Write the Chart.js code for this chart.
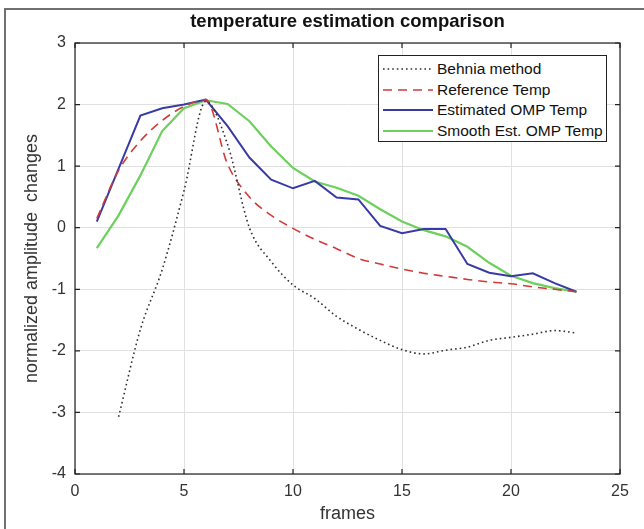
<!DOCTYPE html>
<html lang="en">
<head>
    <meta charset="UTF-8">
    <title>temperature estimation comparison</title>
    <style>
        body { margin: 0; background: #fff; }
        #wrap { position: relative; width: 644px; height: 529px; overflow: hidden; }
        /* figure frame, only left and top edges show in the crop */
        #frame {
            position: absolute; left: 4px; top: 8px; width: 700px; height: 600px;
            border-left: 2px solid #707070; border-top: 2px solid #707070;
        }
        #chart { position: absolute; left: 0; top: 0; }
        #legend {
            position: absolute; left: 378px; top: 55px; width: 229px; height: 87px;
            border: 1px solid #222; background: #fff;
            font-family: "Liberation Sans", Arial, sans-serif; font-size: 15.5px; color: #111;
            box-sizing: border-box; padding-top: 3px;
        }
        #legend .row { display: flex; align-items: center; height: 20.5px; }
        #legend svg { margin-left: 4px; margin-right: 4px; }
    </style>
    <script src="https://cdn.jsdelivr.net/npm/chart.js"></script>
</head>
<body>
<div id="wrap">
    <div id="frame"></div>
    <canvas id="chart" width="644" height="529"></canvas>
    <div id="legend"></div>
</div>
<script>
    // values
    const frames = [1, 2, 3, 4, 5, 6, 7, 8, 9, 10, 11, 12, 13, 14, 15, 16, 17, 18, 19, 20, 21, 22, 23];
    const behniaFrames = [2, 3, 4, 5, 6, 7, 8, 9, 10, 11, 12, 13, 14, 15, 16, 17, 18, 19, 20, 21, 22, 23];
    const behnia = [-3.07, -1.65, -0.68, 0.6, 2.05, 1.35, 0.0, -0.55, -0.93, -1.15, -1.44, -1.65, -1.83, -1.98, -2.05, -1.99, -1.94, -1.83, -1.78, -1.73, -1.67, -1.71];
    const reference = [0.15, 0.93, 1.41, 1.74, 1.97, 2.08, 1.03, 0.5, 0.2, -0.01, -0.19, -0.34, -0.5, -0.59, -0.67, -0.74, -0.79, -0.84, -0.88, -0.91, -0.96, -1.0, -1.04];
    const estimated = [0.1, 0.96, 1.82, 1.94, 2.0, 2.08, 1.65, 1.14, 0.78, 0.64, 0.76, 0.49, 0.46, 0.03, -0.09, -0.02, -0.02, -0.59, -0.73, -0.79, -0.74, -0.9, -1.04];
    const smoothEst = [-0.33, 0.2, 0.85, 1.57, 1.94, 2.07, 2.01, 1.73, 1.32, 0.97, 0.75, 0.65, 0.52, 0.3, 0.1, -0.04, -0.14, -0.31, -0.57, -0.78, -0.9, -0.98, -1.04];

    const seriesNames = ["Behnia method", "Reference Temp", "Estimated OMP Temp", "Smooth Est. OMP Temp"];
    const xTicks = [0, 5, 10, 15, 20, 25];
    const yTicks = [-4, -3, -2, -1, 0, 1, 2, 3];

    const FONT = "'Liberation Sans', Arial, sans-serif";

    function pts(xs, ys) {
        return xs.map((x, i) => ({ x: x, y: ys[i] }));
    }

    const datasets = [
        { label: seriesNames[0], data: pts(behniaFrames, behnia), borderColor: '#303030', borderWidth: 1.6, borderDash: [1.6, 3], cubicInterpolationMode: 'monotone' },
        { label: seriesNames[1], data: pts(frames, reference), borderColor: '#d23a3a', borderWidth: 1.6, borderDash: [9, 6], cubicInterpolationMode: 'monotone' },
        { label: seriesNames[2], data: pts(frames, estimated), borderColor: '#3a3aa6', borderWidth: 2 },
        { label: seriesNames[3], data: pts(frames, smoothEst), borderColor: '#6cd05c', borderWidth: 2.2 }
    ];

    // MATLAB-like box, inward ticks and bold title centred over the axes
    const boxPlugin = {
        id: 'boxPlugin',
        afterDraw(chart) {
            const ctx = chart.ctx;
            const a = chart.chartArea;
            const xs = chart.scales.x, ys = chart.scales.y;
            ctx.save();
            ctx.strokeStyle = '#222';
            ctx.lineWidth = 1.2;
            ctx.strokeRect(a.left, a.top, a.right - a.left, a.bottom - a.top);
            ctx.beginPath();
            xTicks.forEach(v => {
                const px = xs.getPixelForValue(v);
                ctx.moveTo(px, a.bottom); ctx.lineTo(px, a.bottom - 5);
                ctx.moveTo(px, a.top); ctx.lineTo(px, a.top + 5);
            });
            yTicks.forEach(v => {
                const py = ys.getPixelForValue(v);
                ctx.moveTo(a.left, py); ctx.lineTo(a.left + 5, py);
                ctx.moveTo(a.right, py); ctx.lineTo(a.right - 5, py);
            });
            ctx.stroke();
            ctx.fillStyle = '#111';
            ctx.font = 'bold 18.5px ' + FONT;
            ctx.textAlign = 'center';
            ctx.textBaseline = 'middle';
            ctx.fillText('temperature estimation comparison', (a.left + a.right) / 2, 22);
            ctx.restore();
        }
    };

    new Chart(document.getElementById('chart'), {
        type: 'line',
        data: { datasets: datasets },
        options: {
            responsive: false,
            animation: false,
            layout: { padding: { left: 0, right: 24, top: 43, bottom: 0 } },
            elements: { point: { radius: 0 }, line: { fill: false } },
            plugins: { legend: { display: false }, title: { display: false }, tooltip: { enabled: false } },
            scales: {
                x: {
                    type: 'linear', min: 0, max: 25,
                    afterFit: s => { s.height = 55; },
                    afterBuildTicks: s => { s.ticks = xTicks.map(v => ({ value: v })); },
                    grid: { color: '#e0e0e0', drawTicks: false },
                    border: { display: false },
                    ticks: { padding: 8, color: '#333', font: { family: FONT, size: 16 } },
                    title: { display: true, text: 'frames', color: '#333', font: { family: FONT, size: 18 }, padding: { top: 3 } }
                },
                y: {
                    min: -4, max: 3,
                    afterFit: s => { s.width = 75; },
                    afterBuildTicks: s => { s.ticks = yTicks.map(v => ({ value: v })); },
                    grid: { color: '#e0e0e0', drawTicks: false },
                    border: { display: false },
                    ticks: { padding: 9, color: '#333', font: { family: FONT, size: 16 } },
                    title: { display: true, text: 'normalized amplitude  changes', color: '#333', font: { family: FONT, size: 18 }, padding: { top: 21, bottom: 0 } }
                }
            }
        },
        plugins: [boxPlugin]
    });

    // legend box built from the dataset styles
    const legend = document.getElementById('legend');
    datasets.forEach(d => {
        const row = document.createElement('div');
        row.className = 'row';
        const dash = d.borderDash ? d.borderDash.join(',') : 'none';
        row.innerHTML = '<svg width="50" height="10"><line x1="0" y1="5" x2="50" y2="5" stroke="' + d.borderColor +
            '" stroke-width="' + d.borderWidth + '" stroke-dasharray="' + dash + '"/></svg><span>' + d.label + '</span>';
        legend.appendChild(row);
    });
</script>
</body>
</html>
